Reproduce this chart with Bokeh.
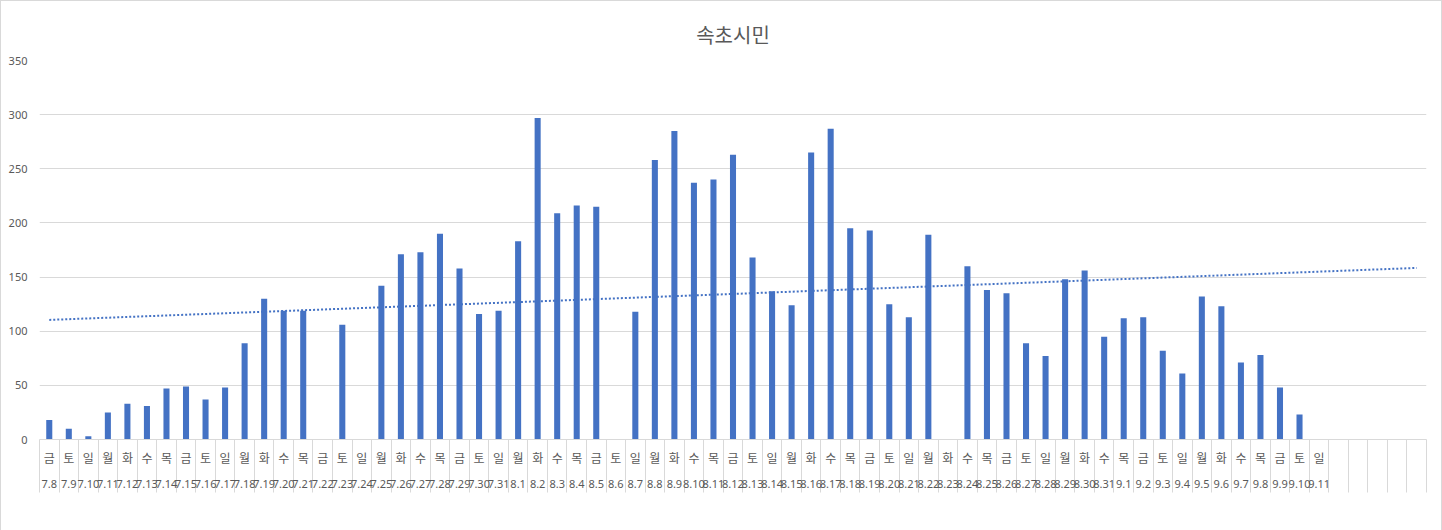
import numpy as np
from bokeh.plotting import figure
from bokeh.models import (ColumnDataSource, LinearAxis, FixedTicker, Range1d,
                          Legend, LegendItem)
from bokeh.embed import file_html
from bokeh.resources import INLINE

title_text = "속초시민"
series_name = "속초시민"
trend_name = "선형 (속초시민)"

days = ["금", "토", "일", "월", "화", "수", "목",
        "금", "토", "일", "월", "화", "수", "목",
        "금", "토", "일", "월", "화", "수", "목",
        "금", "토", "일", "월", "화", "수", "목",
        "금", "토", "일", "월", "화", "수", "목",
        "금", "토", "일", "월", "화", "수", "목",
        "금", "토", "일", "월", "화", "수", "목",
        "금", "토", "일", "월", "화", "수", "목",
        "금", "토", "일", "월", "화", "수", "목",
        "금", "토", "일"]

dates = ["7.8", "7.9", "7.10", "7.11", "7.12", "7.13", "7.14", "7.15", "7.16",
         "7.17", "7.18", "7.19", "7.20", "7.21", "7.22", "7.23", "7.24", "7.25",
         "7.26", "7.27", "7.28", "7.29", "7.30", "7.31",
         "8.1", "8.2", "8.3", "8.4", "8.5", "8.6", "8.7", "8.8", "8.9", "8.10",
         "8.11", "8.12", "8.13", "8.14", "8.15", "8.16", "8.17", "8.18", "8.19",
         "8.20", "8.21", "8.22", "8.23", "8.24", "8.25", "8.26", "8.27", "8.28",
         "8.29", "8.30", "8.31",
         "9.1", "9.2", "9.3", "9.4", "9.5", "9.6", "9.7", "9.8", "9.9", "9.10",
         "9.11"]

values = [18, 10, 3, 25, 33, 31, 47, 49, 37, 48, 89, 130, 119, 119, None, 106,
          None, 142, 171, 173, 190, 158, 116, 119,
          183, 297, 209, 216, 215, None, 118, 258, 285, 237, 240, 263, 168, 137,
          124, 265, 287, 195, 193, 125, 113, 189, None, 160, 138, 135, 89, 77,
          148, 156, 95,
          112, 113, 82, 61, 132, 123, 71, 78, 48, 23, None]

blank_cells = 5  # empty categories at the end of the axis

y_ticks = [0, 50, 100, 150, 200, 250, 300, 350]

day_labels = days + [""] * blank_cells
date_labels = dates + [""] * blank_cells
N = len(day_labels)
xs = list(range(1, N + 1))

BLUE = "#4472C4"
GRID = "#D9D9D9"
TXT = "#595959"

bx = [i + 1 for i, v in enumerate(values) if v is not None]
by = [v for v in values if v is not None]
src = ColumnDataSource(dict(x=bx, top=by))

# linear trendline (least squares, like Excel)
slope, icpt = np.polyfit(bx, by, 1)
tx = [1, N]
ty = [icpt + slope * t for t in tx]

p = figure(frame_width=1387, frame_height=379, output_backend="svg",
           toolbar_location=None,
           x_range=Range1d(0.5, N + 0.5), y_range=Range1d(0, 350),
           x_axis_location=None, min_border_left=38, min_border_right=15,
           min_border_top=59, min_border_bottom=90, title=title_text,
           styles={"border": "1px solid #D9D9D9"})
p.outline_line_color = None
p.background_fill_color = "white"
p.border_fill_color = "white"

p.title.align = "center"
p.title.vertical_align = "top"
p.title.standoff = 20
p.title.text_font = "Noto Sans CJK KR"
p.title.text_font_size = "20px"
p.title.text_font_style = "normal"
p.title.text_color = TXT

p.xgrid.visible = False
p.ygrid.grid_line_color = GRID
p.ygrid.ticker = FixedTicker(ticks=y_ticks)

ya = p.yaxis[0]
ya.ticker = FixedTicker(ticks=y_ticks)
ya.axis_line_color = None
ya.major_tick_line_color = None
ya.minor_tick_line_color = None
ya.major_tick_out = 0
ya.major_tick_in = 0
ya.major_label_standoff = 12
ya.major_label_text_font = "Noto Sans"
ya.major_label_text_font_size = "11px"
ya.major_label_text_color = TXT

bars = p.vbar(x="x", top="top", width=0.31, source=src, fill_color=BLUE,
              line_color=None)
trend = p.line(tx, ty, line_color=BLUE, line_width=2, line_dash="2 2")

bounds = [i + 0.5 for i in range(0, N + 1)]

ax1 = LinearAxis(ticker=FixedTicker(ticks=xs, minor_ticks=bounds),
                 major_label_overrides={x: d for x, d in zip(xs, day_labels)})
ax1.axis_line_color = GRID
ax1.major_tick_line_color = None
ax1.major_tick_out = 0
ax1.major_tick_in = 0
ax1.minor_tick_line_color = GRID
ax1.minor_tick_out = 53
ax1.minor_tick_in = 0
ax1.major_label_standoff = -44
ax1.major_label_text_font = "Noto Sans CJK KR"
ax1.major_label_text_font_size = "12px"
ax1.major_label_text_color = TXT
p.add_layout(ax1, "below")

ax2 = LinearAxis(ticker=FixedTicker(ticks=xs),
                 major_label_overrides={x: d for x, d in zip(xs, date_labels)})
ax2.axis_line_color = None
ax2.major_tick_line_color = None
ax2.minor_tick_line_color = None
ax2.major_tick_out = 0
ax2.major_tick_in = 0
ax2.major_label_standoff = 11
ax2.major_label_text_font = "Noto Sans"
ax2.major_label_text_font_size = "11px"
ax2.major_label_text_color = TXT
p.add_layout(ax2, "below")

legend = Legend(items=[LegendItem(label=series_name, renderers=[bars]),
                       LegendItem(label=trend_name, renderers=[trend])],
                orientation="horizontal", location="top_center",
                glyph_width=34, glyph_height=8, label_standoff=4, spacing=18,
                padding=0, margin=10, border_line_color=None,
                background_fill_alpha=0,
                label_text_font="Noto Sans CJK KR", label_text_font_size="12px",
                label_text_color=TXT)
p.add_layout(legend, "below")

open("out.html", "w").write(file_html(p, INLINE))
